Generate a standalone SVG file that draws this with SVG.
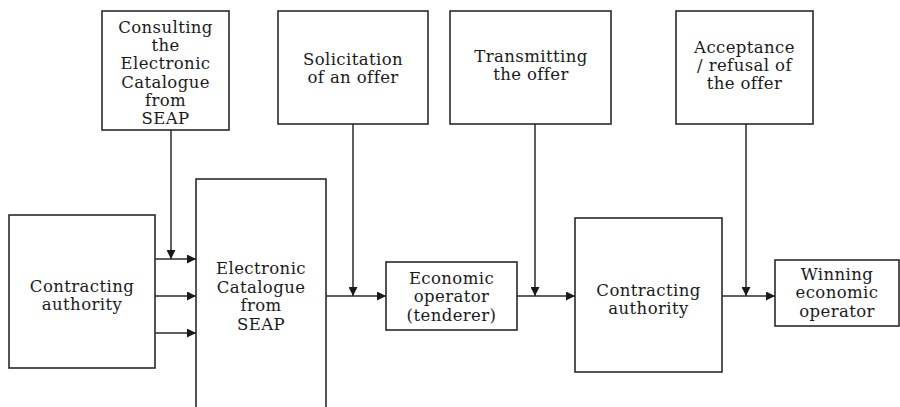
<svg xmlns="http://www.w3.org/2000/svg" width="900" height="407" viewBox="0 0 900 407">
<style>
.box{fill:#fff;stroke:#2a2a2a;stroke-width:1.6}
.t{font-family:"DejaVu Serif","Liberation Serif",serif;font-size:16.5px;letter-spacing:0.4px;fill:#1a1a1a;text-anchor:middle}
.c{fill:none;stroke:#2a2a2a;stroke-width:1.5}
</style>
<defs>
<marker id="ah" viewBox="0 0 10 10" refX="10" refY="5" markerWidth="11" markerHeight="9" markerUnits="userSpaceOnUse" orient="auto">
<path d="M0,0 L10,5 L0,10 Z" fill="#1a1a1a"/>
</marker>
</defs>
<rect width="900" height="407" fill="#fff"/>
<g id="connectors">
<path class="c" d="M171,130 V259" marker-end="url(#ah)"/>
<path class="c" d="M155,259 H196" marker-end="url(#ah)"/>
<path class="c" d="M155,296 H196" marker-end="url(#ah)"/>
<path class="c" d="M155,333 H196" marker-end="url(#ah)"/>
<path class="c" d="M353,124 V296" marker-end="url(#ah)"/>
<path class="c" d="M326,296 H386" marker-end="url(#ah)"/>
<path class="c" d="M535,124 V296" marker-end="url(#ah)"/>
<path class="c" d="M517,296 H575" marker-end="url(#ah)"/>
<path class="c" d="M746,124 V296" marker-end="url(#ah)"/>
<path class="c" d="M722,296 H775" marker-end="url(#ah)"/>
</g>
<g id="consulting">
<rect class="box" x="102" y="11" width="127" height="119"/>
<text class="t" x="165.5" y="33">Consulting</text>
<text class="t" x="165.5" y="51.2">the</text>
<text class="t" x="165.5" y="69.4">Electronic</text>
<text class="t" x="165.5" y="87.6">Catalogue</text>
<text class="t" x="165.5" y="105.8">from</text>
<text class="t" x="165.5" y="124">SEAP</text>
</g>
<g id="solicitation">
<rect class="box" x="278" y="11" width="150" height="113"/>
<text class="t" x="353" y="65">Solicitation</text>
<text class="t" x="353" y="83">of an offer</text>
</g>
<g id="transmitting">
<rect class="box" x="450" y="11" width="161" height="113"/>
<text class="t" x="531" y="62">Transmitting</text>
<text class="t" x="531" y="80">the offer</text>
</g>
<g id="acceptance">
<rect class="box" x="676" y="11" width="137" height="113"/>
<text class="t" x="744.5" y="52.7">Acceptance</text>
<text class="t" x="744.5" y="70.9">/ refusal of</text>
<text class="t" x="744.5" y="89.3">the offer</text>
</g>
<g id="contracting1">
<rect class="box" x="9" y="215" width="146" height="153"/>
<text class="t" x="82" y="291.5">Contracting</text>
<text class="t" x="82" y="309.5">authority</text>
</g>
<g id="catalogue">
<rect class="box" x="196" y="179" width="130" height="240"/>
<text class="t" x="261" y="274">Electronic</text>
<text class="t" x="261" y="292.5">Catalogue</text>
<text class="t" x="261" y="311">from</text>
<text class="t" x="261" y="329.5">SEAP</text>
</g>
<g id="economic">
<rect class="box" x="386" y="262" width="131" height="68"/>
<text class="t" x="451.5" y="284">Economic</text>
<text class="t" x="451.5" y="302.3">operator</text>
<text class="t" x="451.5" y="320.7">(tenderer)</text>
</g>
<g id="contracting2">
<rect class="box" x="575" y="218" width="147" height="154"/>
<text class="t" x="648.5" y="295.5">Contracting</text>
<text class="t" x="648.5" y="313.5">authority</text>
</g>
<g id="winning">
<rect class="box" x="775" y="260" width="124" height="66"/>
<text class="t" x="837" y="280">Winning</text>
<text class="t" x="837" y="298.3">economic</text>
<text class="t" x="837" y="316.7">operator</text>
</g>
</svg>
